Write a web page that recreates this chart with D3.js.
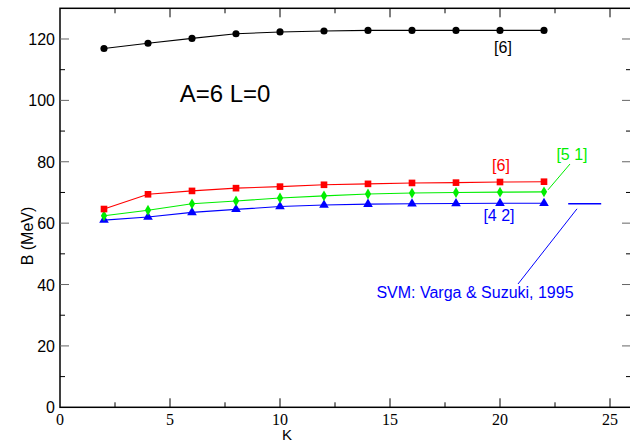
<!DOCTYPE html>
<html><head><meta charset="utf-8">
<script src="https://cdn.jsdelivr.net/npm/d3@7"></script>
<style>body{margin:0;background:#fff}svg{display:block}</style>
</head><body>
<svg id="c" width="630" height="443"></svg>
<script>
const K = [2,4,6,8,10,12,14,16,18,20,22];
const black6 = [116.9,118.6,120.2,121.7,122.3,122.6,122.8,122.8,122.8,122.8,122.8];
const red6 = [64.6,69.4,70.5,71.4,71.9,72.5,72.8,73.1,73.2,73.4,73.5];
const green51 = [62.4,64.2,66.3,67.2,68.2,68.9,69.5,69.8,70.0,70.1,70.2];
const blue42 = [61.0,62.0,63.5,64.5,65.4,65.9,66.2,66.3,66.4,66.5,66.5];
const svmK = [23.1,24.6];
const svmB = 66.3;
const xTicks = [0,5,10,15,20,25];
const yTicks = [0,20,40,60,80,100,120];

const svg = d3.select("#c");
const L=60, R=632, T=8.3, B=407.3;
const x = d3.scaleLinear().domain([0,26]).range([L,R]);
const y = d3.scaleLinear().domain([0,130]).range([B,T]);
const GREEN = "#00ee00";
const SANS = "'Liberation Sans',Arial,sans-serif";

svg.append("rect").attr("x",L).attr("y",T).attr("width",R-L).attr("height",B-T)
  .attr("fill","none").attr("stroke","#000").attr("stroke-width",1.5);

const xMinor = d3.range(2.5,26,5);
const yMinor = d3.range(10,130,20);
function tk(x1,y1,x2,y2,c){svg.append("line").attr("x1",x1).attr("y1",y1).attr("x2",x2).attr("y2",y2).attr("stroke",c||"#000").attr("stroke-width",1);}
xTicks.forEach(v=>{ if(v>0){tk(x(v),B,x(v),B-9); tk(x(v),T,x(v),T+9);} });
xMinor.forEach(v=>{ tk(x(v),B,x(v),B-5); tk(x(v),T,x(v),T+5); });
yTicks.forEach(v=>{ if(v>0){tk(L,y(v),L+9,y(v),"#666"); tk(R,y(v),R-10,y(v),"#666");} });
yMinor.forEach(v=>{ tk(L,y(v),L+5,y(v)); tk(R,y(v),R-6,y(v)); });

svg.selectAll(".xl").data(xTicks).enter().append("text")
  .attr("x",d=>x(d)).attr("y",425).attr("text-anchor","middle")
  .style("font-family","'Liberation Serif','Times New Roman',serif").attr("font-size",16).text(d=>d);
svg.selectAll(".yl").data(yTicks).enter().append("text")
  .attr("x",L-5).attr("y",d=>y(d)+6).attr("text-anchor","end")
  .style("font-family",SANS).attr("font-size",16).text(d=>d);

svg.append("text").attr("x",287).attr("y",440).attr("text-anchor","middle")
  .style("font-family",SANS).attr("font-size",15).text("K");
svg.append("text").attr("transform","translate(33,236) rotate(-90)").attr("text-anchor","middle")
  .style("font-family",SANS).attr("font-size",16).text("B (MeV)");

const line = d3.line().x((d,i)=>x(K[i])).y(d=>y(d));
function series(vals,color,sym,size){
  svg.append("path").attr("d",line(vals)).attr("fill","none").attr("stroke",color).attr("stroke-width",1.1);
  svg.selectAll(null).data(vals).enter().append("path")
    .attr("transform",(d,i)=>`translate(${x(K[i])},${y(d)})`)
    .attr("d",d3.symbol().type(sym).size(size)).attr("fill",color);
}
series(black6,"#000",d3.symbolCircle,40);
series(blue42,"#0000ff",d3.symbolTriangle,40);
series(green51,GREEN,d3.symbolDiamond,34);
series(red6,"#ff0000",d3.symbolSquare,44);

svg.append("line").attr("x1",x(svmK[0])).attr("x2",x(svmK[1])).attr("y1",y(svmB)).attr("y2",y(svmB))
  .attr("stroke","#0000ff").attr("stroke-width",1.5);
svg.append("line").attr("x1",577).attr("y1",y(svmB)+5).attr("x2",518).attr("y2",284)
  .attr("stroke","#0000ff").attr("stroke-width",1);
svg.append("text").attr("x",475).attr("y",298).attr("text-anchor","middle").attr("fill","#0000ff")
  .style("font-family",SANS).attr("font-size",16).text("SVM: Varga & Suzuki, 1995");

svg.append("line").attr("x1",x(22)+4).attr("y1",y(green51[10])-2).attr("x2",570).attr("y2",164)
  .attr("stroke",GREEN).attr("stroke-width",1);

function lab(t,xx,yy,c,fs){svg.append("text").attr("x",xx).attr("y",yy).attr("text-anchor","middle").attr("fill",c)
  .style("font-family",SANS).attr("font-size",fs||16).text(t);}
lab("[6]",503,53,"#000");
lab("[6]",501,171,"#ff0000");
lab("[5 1]",572,160,GREEN);
lab("[4 2]",499,221,"#0000ff");
lab("A=6 L=0",225,102,"#000",24);
</script>
</body></html>
